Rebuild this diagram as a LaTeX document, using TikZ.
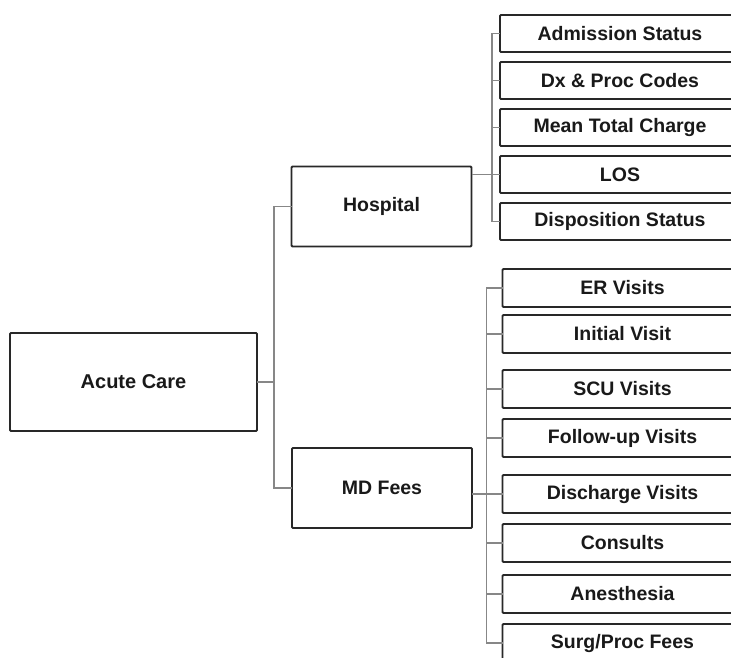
\documentclass[tikz,border=0pt]{standalone}
\usepackage{fontspec}
\setmainfont{Liberation Sans}
\usepackage{xcolor}
\usepackage{tikz}
\usetikzlibrary{positioning}
\definecolor{boxline}{RGB}{40,40,40}
\definecolor{linkgray}{RGB}{135,135,135}
\definecolor{textdark}{RGB}{25,25,25}

\begin{document}
\begin{tikzpicture}[x=1pt, y=1pt, node distance=10pt,
    root/.style={draw=boxline, line width=1.8pt, rounded corners=1pt, minimum width=247pt,
                minimum height=98pt, inner sep=0pt, outer sep=0pt, text=textdark,
                font=\bfseries\fontsize{20}{24}\selectfont},
    mid/.style={draw=boxline, line width=1.8pt, rounded corners=1pt, minimum width=180pt,
                minimum height=80pt, inner sep=0pt, outer sep=0pt, text=textdark,
                font=\bfseries\fontsize{19.5}{23}\selectfont},
    leaf/.style={draw=boxline, line width=1.8pt, rounded corners=1pt, minimum width=240pt,
                minimum height=37pt, inner sep=0pt, outer sep=0pt, text=textdark,
                font=\bfseries\fontsize{19.5}{23}\selectfont},
    link/.style={draw=linkgray, line width=1.3pt}]

  \useasboundingbox[fill=white] (0,0) rectangle (731,-657);

  \node[root] (acute) at (133.5,-382) {Acute Care};
  \node[mid] (hosp) at (381.5,-206.5) {Hospital};
  \node[mid] (md) at (382,-488) {MD Fees};

  % hospital items
  \node[leaf] (adm) at (620,-33.5) {Admission Status};
  \node[leaf, below=of adm] (dx) {Dx \& Proc Codes};
  \node[leaf, below=of dx] (mean) {Mean Total Charge};
  \node[leaf, below=of mean] (los) {LOS};
  \node[leaf, below=of los] (disp) {Disposition Status};

  % physician items
  \node[leaf, minimum height=38pt] (er) at (622.5,-288) {ER Visits};
  \node[leaf, minimum height=38pt, below=8pt of er] (init) {Initial Visit};
  \node[leaf, minimum height=38pt, below=17pt of init] (scu) {SCU Visits};
  \node[leaf, minimum height=38pt, below=11pt of scu] (follow) {Follow-up Visits};
  \node[leaf, minimum height=38pt, below=18pt of follow] (disch) {Discharge Visits};
  \node[leaf, minimum height=38pt, below=11pt of disch] (cons) {Consults};
  \node[leaf, minimum height=38pt, below=13pt of cons] (anes) {Anesthesia};
  \node[leaf, minimum height=38pt, below=11pt of anes] (surg) {Surg/Proc Fees};

  \coordinate (trunk) at (274,-382);

  \draw[link] (acute.east) -- (trunk);
  \draw[link] (hosp.west) -| (trunk) |- (md.west);

  \draw[link] (adm.west) -- ++(-8,0) |- (disp.west);
  \foreach \n in {dx,mean,los}
    \draw[link] (\n.west) -- ++(-8,0);
  \draw[link] (hosp.east |- los.west) -- (los.west);

  \draw[link] (er.west) -- ++(-16,0) |- (surg.west);
  \foreach \n in {init,scu,follow,cons,anes}
    \draw[link] (\n.west) -- ++(-16,0);
  \draw[link] (md.east |- disch.west) -- (disch.west);
\end{tikzpicture}
\end{document}
